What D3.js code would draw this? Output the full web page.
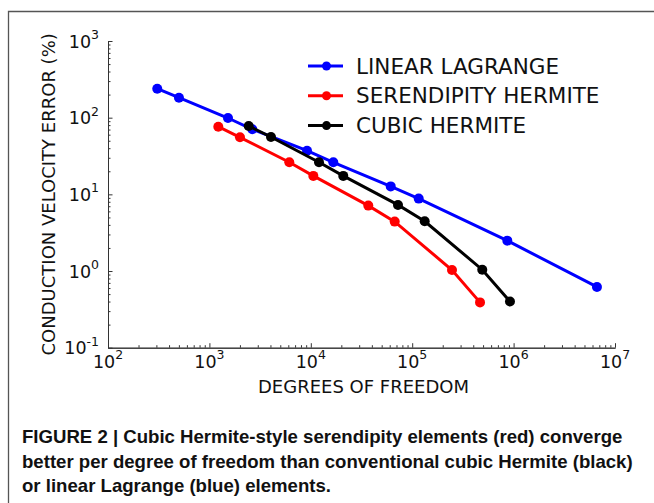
<!DOCTYPE html>
<html>
<head>
<meta charset="utf-8">
<script src="https://cdn.jsdelivr.net/npm/d3@7"></script>
<style>
  html, body { margin: 0; padding: 0; background: #fff; }
  svg { display: block; }
</style>
</head>
<body>
<div id="chart"></div>
<script>
// values (degrees of freedom vs. % error)
const seriesNames = ["LINEAR LAGRANGE", "SERENDIPITY HERMITE", "CUBIC HERMITE"];
const seriesColors = ["#0000ff", "#ff0000", "#000000"];

const linLagDof = [306, 501, 1525, 2649, 9180, 16670, 61400, 115900, 866900, 6640000];
const linLagErr = [239, 182, 99, 70.6, 37.1, 26.2, 12.7, 8.8, 2.49, 0.62];

const serHerDof = [1224, 2003, 6138, 10590, 36900, 67200, 246800, 466500];
const serHerErr = [76.3, 55.5, 26.2, 17.4, 7.13, 4.41, 1.03, 0.39];

const cubHerDof = [2441, 4049, 12050, 20900, 72400, 132800, 491000, 920900];
const cubHerErr = [78, 56, 26.2, 17.4, 7.28, 4.46, 1.04, 0.40];

const xTickExps = [2, 3, 4, 5, 6, 7];
const yTickExps = [-1, 0, 1, 2, 3];

const xLabel = "DEGREES OF FREEDOM";
const yLabel = "CONDUCTION VELOCITY ERROR (%)";
const captionLines = [
  "FIGURE 2 | Cubic Hermite-style serendipity elements (red) converge",
  "better per degree of freedom than conventional cubic Hermite (black)",
  "or linear Lagrange (blue) elements."
];

const W = 654, H = 503;
const plot = { left: 108, right: 615, top: 41, bottom: 347.7 };

const svg = d3.select("#chart").append("svg")
    .attr("width", W)
    .attr("height", H);

// figure frame (top and left edges only)
svg.append("path")
    .attr("d", `M8.5,${H} L8.5,11.5 L${W},11.5`)
    .attr("fill", "none")
    .attr("stroke", "#555")
    .attr("stroke-width", 1.3);

const x = d3.scaleLog().domain([1e2, 1e7]).range([plot.left, plot.right]);
const y = d3.scaleLog().domain([1e-1, 1e3]).range([plot.bottom, plot.top]);

const isMajor = v => Math.abs(Math.log10(v) - Math.round(Math.log10(v))) < 1e-9;

// inward ticks: minor then major
const xMinor = x.ticks().filter(v => !isMajor(v));
const yMinor = y.ticks().filter(v => !isMajor(v));
const xMajor = xTickExps.map(e => Math.pow(10, e));
const yMajor = yTickExps.map(e => Math.pow(10, e));

function styleAxis(g) {
    g.selectAll("path, line").attr("stroke", "#333").attr("stroke-width", 1);
    g.selectAll("text").remove();
}

svg.append("g")
    .attr("transform", `translate(0,${plot.bottom})`)
    .call(d3.axisBottom(x).tickValues(xMinor).tickSize(-2.5).tickSizeOuter(0))
    .call(styleAxis);
svg.append("g")
    .attr("transform", `translate(0,${plot.bottom})`)
    .call(d3.axisBottom(x).tickValues(xMajor).tickSize(-4.5).tickSizeOuter(0))
    .call(styleAxis);
svg.append("g")
    .attr("transform", `translate(${plot.left},0)`)
    .call(d3.axisLeft(y).tickValues(yMinor).tickSize(-2.5).tickSizeOuter(0))
    .call(styleAxis);
svg.append("g")
    .attr("transform", `translate(${plot.left},0)`)
    .call(d3.axisLeft(y).tickValues(yMajor).tickSize(-4.5).tickSizeOuter(0))
    .call(styleAxis);

// tick labels as 10^n
const tickFont = "DejaVu Sans, sans-serif";
xTickExps.forEach(e => {
    const t = svg.append("text")
        .attr("x", x(Math.pow(10, e)))
        .attr("y", plot.bottom + 20)
        .attr("text-anchor", "middle")
        .style("font-family", tickFont)
        .style("font-size", "17.5px")
        .attr("fill", "#111");
    t.append("tspan").text("10");
    t.append("tspan").attr("dy", -8.5).style("font-size", "12.5px").text(e);
});
yTickExps.forEach(e => {
    const t = svg.append("text")
        .attr("x", 99)
        .attr("y", y(Math.pow(10, e)) + 6.5)
        .attr("text-anchor", "end")
        .style("font-family", tickFont)
        .style("font-size", "17.5px")
        .attr("fill", "#111");
    t.append("tspan").text("10");
    t.append("tspan").attr("dy", -8.5).style("font-size", "12.5px").text(e);
});

// axis titles
svg.append("text")
    .attr("x", (plot.left + plot.right) / 2 + 2)
    .attr("y", 393)
    .attr("text-anchor", "middle")
    .style("font-family", tickFont)
    .style("font-size", "18px")
    .attr("fill", "#111")
    .text(xLabel);

svg.append("text")
    .attr("transform", `translate(55,${(plot.top + plot.bottom) / 2}) rotate(-90)`)
    .attr("text-anchor", "middle")
    .style("font-family", tickFont)
    .style("font-size", "18px")
    .attr("fill", "#111")
    .text(yLabel);

// series
const series = [
    { dof: linLagDof, err: linLagErr },
    { dof: serHerDof, err: serHerErr },
    { dof: cubHerDof, err: cubHerErr }
].map((s, i) => ({
    name: seriesNames[i],
    color: seriesColors[i],
    points: s.dof.map((d, j) => ({ dof: d, err: s.err[j] }))
}));

const line = d3.line().x(d => x(d.dof)).y(d => y(d.err));

const sg = svg.selectAll(".series")
    .data(series)
    .join("g")
    .attr("class", "series");

sg.append("path")
    .attr("d", d => line(d.points))
    .attr("fill", "none")
    .attr("stroke", d => d.color)
    .attr("stroke-width", 3);

sg.selectAll("circle")
    .data(d => d.points.map(p => ({ ...p, color: d.color })))
    .join("circle")
    .attr("cx", d => x(d.dof))
    .attr("cy", d => y(d.err))
    .attr("r", 5)
    .attr("fill", d => d.color);

// legend
const legend = svg.append("g").attr("transform", "translate(308,66)");
series.forEach((s, i) => {
    const g = legend.append("g").attr("transform", `translate(0,${i * 29.8})`);
    g.append("line")
        .attr("x1", 0).attr("x2", 35)
        .attr("stroke", s.color).attr("stroke-width", 3);
    g.append("circle")
        .attr("cx", 18.5).attr("r", 4.5)
        .attr("fill", s.color);
    g.append("text")
        .attr("x", 48)
        .attr("y", 7.5)
        .style("font-family", tickFont)
        .style("font-size", "21.5px")
        .attr("fill", "#111")
        .text(s.name);
});

// caption
svg.selectAll(".caption")
    .data(captionLines)
    .join("text")
    .attr("class", "caption")
    .attr("x", 22)
    .attr("y", (d, i) => 443 + i * 24.5)
    .style("font-family", "Liberation Sans, Arial, sans-serif")
    .style("font-weight", "bold")
    .style("font-size", "18.6px")
    .attr("fill", "#111")
    .text(d => d);
</script>
</body>
</html>
